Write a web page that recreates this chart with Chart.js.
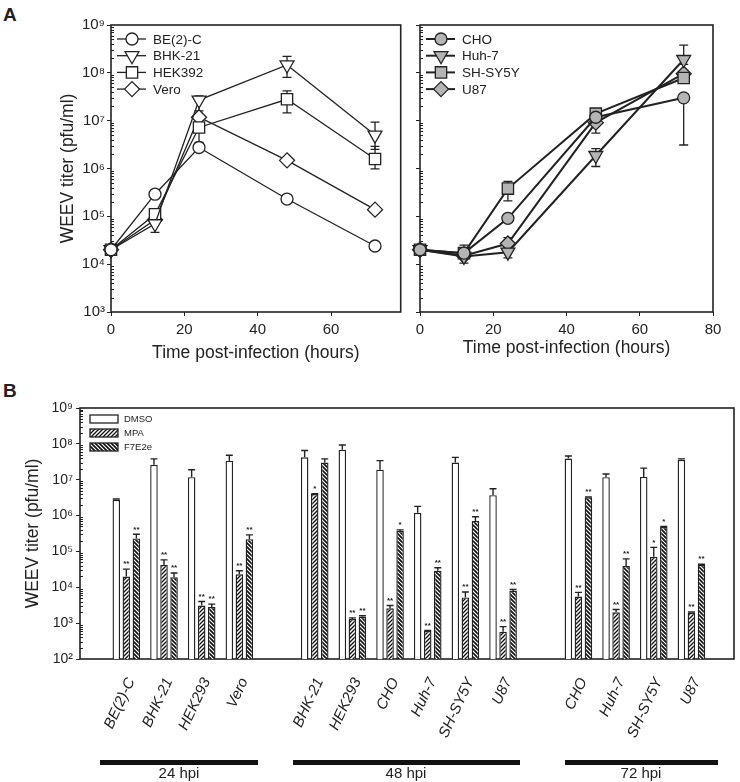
<!DOCTYPE html>
<html>
<head>
<meta charset="utf-8">
<script src="https://cdn.jsdelivr.net/npm/chart.js@4.4.0/dist/chart.umd.min.js"></script>
<style>
  body { margin: 0; background: #fff; font-family: "Liberation Sans", Arial, sans-serif; color: #222; }
  #fig { position: relative; width: 740px; height: 782px; overflow: hidden; }
  canvas { position: absolute; }
  .panel { position: absolute; font-weight: bold; font-size: 19px; }
  .hpi { position: absolute; height: 5px; background: #111; top: 760px; }
  .hpiTxt { position: absolute; width: 160px; text-align: center; font-size: 15px; line-height: 16px; top: 765px; }
</style>
</head>
<body>
<div id="fig">
  <div class="panel" style="left:3px;top:4px">A</div>
  <div class="panel" style="left:3px;top:380px">B</div>
  <canvas id="topLeft" width="410" height="372" style="left:0;top:0"></canvas>
  <canvas id="topRight" width="330" height="372" style="left:410px;top:0"></canvas>
  <canvas id="bottom" width="740" height="402" style="left:0;top:380px"></canvas>
  <div class="hpi" style="left:100px;width:158px"></div>
  <div class="hpi" style="left:293px;width:227px"></div>
  <div class="hpi" style="left:565px;width:153px"></div>
  <div class="hpiTxt" style="left:99px">24 hpi</div>
  <div class="hpiTxt" style="left:326px">48 hpi</div>
  <div class="hpiTxt" style="left:561px">72 hpi</div>
</div>
<script>
// ---- panel A, time courses (pfu/ml) ----
var hours = [0, 12, 24, 48, 72];
var hourTicks = [0, 20, 40, 60, 80];

var be2c   = [2.0e4, 2.9e5, 2.75e6, 2.3e5, 2.4e4];
var bhk21  = [2.0e4, 7.0e4, 2.7e7, 1.46e8, 5.0e6];
var hek392 = [2.0e4, 1.1e5, 7.2e6, 2.8e7, 1.58e6];
var vero   = [2.0e4, 8.5e4, 1.18e7, 1.48e6, 1.38e5];
var bhk21Lo  = [null, 4.6e4, 1.6e7, 8.0e7, 2.5e6];
var bhk21Hi  = [null, 1.0e5, 3.3e7, 2.2e8, 9.3e6];
var hek392Lo = [null, null, 3.5e6, 1.45e7, 9.8e5];
var hek392Hi = [null, null, 1.1e7, 4.2e7, 2.9e6];

var cho    = [2.0e4, 1.7e4, 9.1e4, 1.18e7, 3.0e7];
var huh7   = [2.0e4, 1.45e4, 1.78e4, 1.87e6, 1.9e8];
var shsy5y = [2.0e4, 1.7e4, 3.8e5, 1.4e7, 7.8e7];
var u87    = [2.0e4, 1.5e4, 2.7e4, 9.1e6, 9.6e7];
var choLo  = [null, null, null, null, 3.1e6];
var choHi  = [null, null, null, null, 3.3e7];
var huh7Lo = [null, 1.05e4, 1.35e4, 1.1e6, 1.5e8];
var huh7Hi = [null, 2.5e4, 2.3e4, 2.6e6, 3.8e8];
var shLo   = [null, null, 2.1e5, 1.1e7, null];
var shHi   = [null, null, 5.4e5, 1.6e7, null];
var u87Lo  = [null, null, 2.2e4, 5.5e6, null];
var u87Hi  = [null, null, 3.6e4, 1.2e7, null];

// ---- panel B, drug treatment (null = gap between time points) ----
var barCats = ['BE(2)-C', 'BHK-21', 'HEK293', 'Vero', null,
               'BHK-21', 'HEK293', 'CHO', 'Huh-7', 'SH-SY5Y', 'U87', null,
               'CHO', 'Huh-7', 'SH-SY5Y', 'U87'];
var dmso    = [2.75e6, 2.6e7, 1.18e7, 3.4e7, null, 4.2e7, 6.9e7, 1.9e7, 1.2e6, 3.0e7, 3.7e6, null, 3.9e7, 1.18e7, 1.2e7, 3.6e7];
var dmsoHi  = [2.9e6, 3.8e7, 1.9e7, 4.8e7, null, 6.5e7, 9.3e7, 3.4e7, 1.8e6, 4.2e7, 5.6e6, null, 4.6e7, 1.45e7, 2.1e7, 3.8e7];
var mpa     = [2.0e4, 4.2e4, 3.1e3, 2.3e4, null, 4.0e6, 1.3e3, 2.6e3, 6.0e2, 5.2e3, 5.8e2, null, 5.5e3, 2.0e3, 7.1e4, 1.95e3];
var mpaHi   = [3.2e4, 5.8e4, 4.0e3, 2.9e4, null, 4.1e6, 1.4e3, 3.1e3, 6.3e2, 7.4e3, 8.0e2, null, 7.2e3, 2.4e3, 1.3e5, 2.05e3];
var f7e2e   = [2.3e5, 1.9e4, 2.8e3, 2.2e5, null, 3.0e7, 1.5e3, 3.7e5, 2.9e4, 7.1e5, 7.9e3, null, 3.2e6, 3.9e4, 4.8e5, 4.2e4];
var f7e2eHi = [3.0e5, 2.5e4, 3.4e3, 2.9e5, null, 3.8e7, 1.6e3, 4.0e5, 3.5e4, 9.3e5, 8.7e3, null, 3.3e6, 6.2e4, 5.0e5, 4.4e4];
var mpaSig  = ['**', '**', '**', '**', null, '*', '**', '**', '**', '**', '**', null, '**', '**', '*', '**'];
var f7Sig   = ['**', '**', '**', '**', null, '', '**', '*', '**', '**', '**', null, '**', '**', '*', '**'];

var FONT = '"Liberation Sans", Arial, sans-serif';
var INK = '#222';
var supDigits = { 2: '\u00b2', 3: '\u00b3', 4: '\u2074', 5: '\u2075', 6: '\u2076', 7: '\u2077', 8: '\u2078', 9: '\u2079' };

function decadeTicks(s) {
  var t = [];
  for (var e = Math.round(Math.log10(s.min)); e <= Math.round(Math.log10(s.max)); e++) t.push({ value: Math.pow(10, e) });
  s.ticks = t;
}
function decadeLabel(v) {
  return '10' + supDigits[Math.round(Math.log10(v))];
}

// frame round the plot + small inward minor ticks on the log axis
var framePlugin = {
  id: 'frame',
  beforeDatasetsDraw: function (chart) {
    var a = chart.chartArea, ctx = chart.ctx, ys = chart.scales.y;
    ctx.save();
    ctx.strokeStyle = INK;
    ctx.lineWidth = 1;
    ctx.beginPath();
    var e0 = Math.round(Math.log10(ys.min)), e1 = Math.round(Math.log10(ys.max));
    for (var e = e0; e < e1; e++) {
      for (var m = 2; m <= 9; m++) {
        var py = Math.round(ys.getPixelForValue(m * Math.pow(10, e))) + 0.5;
        ctx.moveTo(a.left, py);
        ctx.lineTo(a.left + 3, py);
      }
    }
    ctx.stroke();
    ctx.lineWidth = 1.6;
    ctx.strokeRect(a.left, a.top, a.right - a.left, a.bottom - a.top);
    ctx.restore();
  }
};

// error bars under the line markers
var lineErrPlugin = {
  id: 'lineErr',
  beforeDatasetsDraw: function (chart) {
    var ctx = chart.ctx, ys = chart.scales.y;
    ctx.save();
    ctx.strokeStyle = INK;
    ctx.lineWidth = 1.3;
    chart.data.datasets.forEach(function (ds, i) {
      if (!ds.errLo) return;
      var meta = chart.getDatasetMeta(i);
      meta.data.forEach(function (pt, j) {
        var lo = ds.errLo[j], hi = ds.errHi[j];
        if (lo == null || hi == null) return;
        var y0 = ys.getPixelForValue(lo), y1 = ys.getPixelForValue(hi);
        ctx.beginPath();
        ctx.moveTo(pt.x, y0); ctx.lineTo(pt.x, y1);
        ctx.moveTo(pt.x - 4.5, y0); ctx.lineTo(pt.x + 4.5, y0);
        ctx.moveTo(pt.x - 4.5, y1); ctx.lineTo(pt.x + 4.5, y1);
        ctx.stroke();
      });
    });
    ctx.restore();
  }
};

function marker(ctx, ds, x, y) {
  ctx.fillStyle = ds.pointBackgroundColor;
  ctx.strokeStyle = INK;
  ctx.lineWidth = ds.pointBorderWidth;
  Chart.helpers.drawPoint(ctx, {
    pointStyle: ds.pointStyle, rotation: ds.pointRotation || 0,
    radius: ds.pointRadius, borderWidth: ds.pointBorderWidth
  }, x, y);
}

var lineLegendPlugin = {
  id: 'lineLegend',
  afterDatasetsDraw: function (chart) {
    var a = chart.chartArea, ctx = chart.ctx;
    ctx.save();
    chart.data.datasets.forEach(function (ds, i) {
      var y = a.top + 14 + i * 16.7, x = a.left + 6;
      ctx.strokeStyle = INK;
      ctx.lineWidth = ds.borderWidth;
      ctx.beginPath(); ctx.moveTo(x, y); ctx.lineTo(x + 29, y); ctx.stroke();
      marker(ctx, ds, x + 15, y);
      ctx.fillStyle = INK;
      ctx.font = '13.5px ' + FONT;
      ctx.textBaseline = 'middle';
      ctx.fillText(ds.label, a.left + 42, y + 1);
    });
    ctx.restore();
  }
};

function series(label, vals, lo, hi, style, rot, r, fill, lw) {
  return {
    label: label, data: vals, errLo: lo, errHi: hi,
    borderColor: INK, borderWidth: lw,
    pointStyle: style, pointRotation: rot, pointRadius: r, pointHoverRadius: r,
    pointBackgroundColor: fill, pointBorderColor: INK, pointBorderWidth: 1.3,
    clip: false
  };
}

function timeChart(id, sets, opts) {
  return new Chart(document.getElementById(id), {
    type: 'line',
    data: { labels: hours, datasets: sets },
    options: {
      responsive: false,
      animation: false,
      devicePixelRatio: 1,
      layout: { padding: { top: 25, right: opts.padRight, left: 0, bottom: 0 } },
      plugins: { legend: { display: false }, tooltip: { enabled: false } },
      scales: {
        x: {
          type: 'linear', min: 0, max: opts.xMax,
          border: { display: false },
          grid: { drawOnChartArea: false, drawTicks: true, tickLength: 4, color: INK },
          afterBuildTicks: function (s) {
            s.ticks = hourTicks.filter(function (h) { return h <= s.max; }).map(function (h) { return { value: h }; });
          },
          ticks: { color: INK, padding: 5, font: { size: 15, family: FONT } },
          title: { display: true, text: 'Time post-infection (hours)', color: INK,
                   font: { size: 17.5, family: FONT }, padding: { top: 0, bottom: opts.xTitlePad } },
          afterFit: function (s) { s.height = 60; }
        },
        y: {
          type: 'logarithmic', min: 1e3, max: 1e9,
          border: { display: false },
          grid: { drawOnChartArea: false, drawTicks: true, tickLength: 4, color: INK },
          afterBuildTicks: decadeTicks,
          ticks: { display: opts.yLabels, color: INK, padding: 2, font: { size: 15, family: FONT }, callback: decadeLabel },
          title: { display: opts.yLabels, text: 'WEEV titer (pfu/ml)', color: INK,
                   font: { size: 17.5, family: FONT }, padding: { top: 58, bottom: 0 } },
          afterFit: function (s) { s.width = opts.yWidth; }
        }
      }
    },
    plugins: [framePlugin, lineErrPlugin, lineLegendPlugin]
  });
}

timeChart('topLeft', [
  series('BE(2)-C', be2c, null, null, 'circle', 0, 6, '#fff', 1.3),
  series('BHK-21', bhk21, bhk21Lo, bhk21Hi, 'triangle', 180, 8, '#fff', 1.3),
  series('HEK392', hek392, hek392Lo, hek392Hi, 'rect', 0, 8, '#fff', 1.3),
  series('Vero', vero, null, null, 'rectRot', 0, 7.5, '#fff', 1.3)
], { xMax: 79, padRight: 4, yWidth: 111, yLabels: true, xTitlePad: 8 });

timeChart('topRight', [
  series('CHO', cho, choLo, choHi, 'circle', 0, 6, '#b4b4b4', 2),
  series('Huh-7', huh7, huh7Lo, huh7Hi, 'triangle', 180, 8, '#b4b4b4', 2),
  series('SH-SY5Y', shsy5y, shLo, shHi, 'rect', 0, 8, '#b4b4b4', 2),
  series('U87', u87, u87Lo, u87Hi, 'rectRot', 0, 7.5, '#b4b4b4', 2)
], { xMax: 80, padRight: 27, yWidth: 10, yLabels: false, xTitlePad: 13 });

// ---- panel B ----
function hatch(dir, lw) {
  var n = 4, c = document.createElement('canvas');
  c.width = n; c.height = n;
  var g = c.getContext('2d');
  g.fillStyle = '#fff'; g.fillRect(0, 0, n, n);
  g.strokeStyle = '#111'; g.lineWidth = lw;
  g.beginPath();
  if (dir > 0) {
    g.moveTo(-1, n + 1); g.lineTo(n + 1, -1);
    g.moveTo(-1, 1); g.lineTo(1, -1);
    g.moveTo(n - 1, n + 1); g.lineTo(n + 1, n - 1);
  } else {
    g.moveTo(-1, -1); g.lineTo(n + 1, n + 1);
    g.moveTo(n - 1, -1); g.lineTo(n + 1, 1);
    g.moveTo(-1, n - 1); g.lineTo(1, n + 1);
  }
  g.stroke();
  return g.createPattern(c, 'repeat');
}

function barPoints(vals) {
  var out = [];
  vals.forEach(function (v, i) { if (v != null) out.push({ x: i, y: v }); });
  return out;
}

var barErrPlugin = {
  id: 'barErr',
  afterDatasetsDraw: function (chart) {
    var ctx = chart.ctx, ys = chart.scales.y;
    ctx.save();
    ctx.strokeStyle = INK;
    ctx.fillStyle = INK;
    ctx.lineWidth = 1.4;
    ctx.font = 'bold 8px ' + FONT;
    ctx.textAlign = 'center';
    ctx.textBaseline = 'bottom';
    chart.data.datasets.forEach(function (ds, i) {
      var meta = chart.getDatasetMeta(i);
      meta.data.forEach(function (bar, j) {
        var k = ds.data[j].x, hi = ds.errHi[k];
        var top = bar.y;
        if (hi != null) {
          top = ys.getPixelForValue(hi);
          ctx.beginPath();
          ctx.moveTo(bar.x, bar.y); ctx.lineTo(bar.x, top);
          ctx.moveTo(bar.x - 3.5, top); ctx.lineTo(bar.x + 3.5, top);
          ctx.stroke();
        }
        if (ds.sig && ds.sig[k]) ctx.fillText(ds.sig[k], bar.x, top - 1);
      });
    });
    ctx.restore();
  }
};

var barLegendPlugin = {
  id: 'barLegend',
  afterDatasetsDraw: function (chart) {
    var a = chart.chartArea, ctx = chart.ctx;
    ctx.save();
    chart.data.datasets.forEach(function (ds, i) {
      var y = a.top + 7 + i * 14;
      ctx.fillStyle = ds.backgroundColor;
      ctx.fillRect(a.left + 10, y, 28, 8);
      ctx.strokeStyle = INK;
      ctx.lineWidth = 1.3;
      ctx.strokeRect(a.left + 10, y, 28, 8);
      ctx.fillStyle = INK;
      ctx.font = '9.5px ' + FONT;
      ctx.textBaseline = 'middle';
      ctx.fillText(ds.label, a.left + 44, y + 4.5);
    });
    ctx.restore();
  }
};

function barSet(label, vals, hi, sig, fill) {
  return {
    label: label, data: barPoints(vals), errHi: hi, sig: sig,
    backgroundColor: fill, borderColor: INK, borderWidth: 1.4, borderSkipped: 'bottom',
    categoryPercentage: 0.8, barPercentage: 0.75
  };
}

new Chart(document.getElementById('bottom'), {
  type: 'bar',
  data: {
    datasets: [
      barSet('DMSO', dmso, dmsoHi, null, '#fff'),
      barSet('MPA', mpa, mpaHi, mpaSig, hatch(1, 1.3)),
      barSet('F7E2e', f7e2e, f7e2eHi, f7Sig, hatch(-1, 1.6))
    ]
  },
  options: {
    responsive: false,
    animation: false,
    devicePixelRatio: 1,
    layout: { padding: { top: 28, right: 6, left: 0, bottom: 0 } },
    plugins: { legend: { display: false }, tooltip: { enabled: false } },
    scales: {
      x: {
        type: 'linear', min: -1.23, max: 16.13, offset: false,
        border: { display: false },
        grid: { display: false },
        afterBuildTicks: function (s) {
          var t = [];
          barCats.forEach(function (c, i) { if (c) t.push({ value: i }); });
          s.ticks = t;
        },
        ticks: {
          autoSkip: false, minRotation: 65, maxRotation: 65, padding: 8, labelOffset: 5, color: INK,
          font: { size: 15, style: 'italic', family: FONT },
          callback: function (v) { return barCats[v]; }
        },
        afterFit: function (s) { s.height = 123; }
      },
      y: {
        type: 'logarithmic', min: 1e2, max: 1e9,
        border: { display: false },
        grid: { drawOnChartArea: false, drawTicks: true, tickLength: 4, color: INK },
        afterBuildTicks: decadeTicks,
        ticks: { color: INK, padding: 3, font: { size: 14, family: FONT }, callback: decadeLabel },
        title: { display: true, text: 'WEEV titer (pfu/ml)', color: INK,
                 font: { size: 17.5, family: FONT }, padding: { top: 23, bottom: 0 } },
        afterFit: function (s) { s.width = 80; }
      }
    }
  },
  plugins: [framePlugin, barErrPlugin, barLegendPlugin]
});
</script>
</body>
</html>
